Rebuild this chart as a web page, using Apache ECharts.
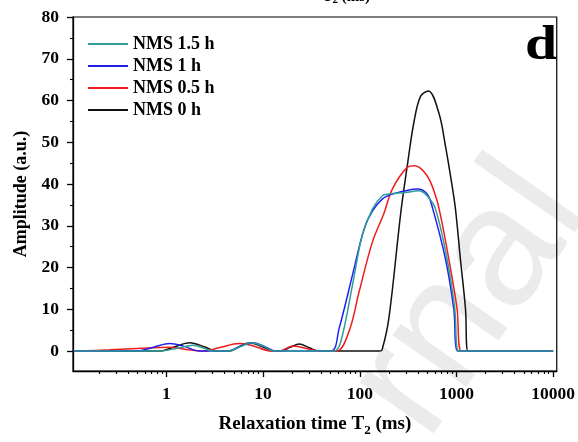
<!DOCTYPE html>
<html>
<head>
<meta charset="utf-8">
<script src="https://cdn.jsdelivr.net/npm/echarts@6/dist/echarts.min.js"></script>
<style>
  html, body { margin: 0; padding: 0; background: #fff; }
  #chart { width: 578px; height: 442px; }
</style>
</head>
<body>
<div id="chart"></div>
<script>
// T2 relaxation time (ms) and amplitude (a.u.) for each NMS treatment time
const t0h   = [0.11, 0.85, 1.2, 1.74, 2.5, 3.3, 4.5, 5.6, 7.2, 10, 12.6, 15, 19, 23.7, 30, 38, 100, 160, 170, 200, 265, 310, 363, 425, 512, 658, 771, 901, 977, 1099, 1239, 1318, 2500, 10000];
const amp0h = [0, 0, 1.0, 2.0, 1.0, 0, 0, 1.0, 2.0, 1.0, 0, 0, 0.9, 1.7, 0.8, 0, 0, 0, 0.3, 7.9, 33, 44.4, 54.8, 61, 62.3, 57, 49, 39.6, 34, 22, 10.2, 0, 0, 0];

const t05h   = [0.11, 0.26, 0.57, 1.08, 1.6, 2.4, 3.5, 5.7, 7.8, 10.7, 12.6, 14.7, 20.2, 32.5, 41, 58, 77.6, 98.4, 135, 178, 217, 310, 370, 497, 608, 684, 834, 1014, 1127, 10000];
const amp05h = [0, 0.3, 0.7, 0.9, 0.4, 0, 0.8, 1.8, 1.3, 0.2, 0, 0, 1.2, 0.3, 0, 0, 4.8, 14.2, 26.1, 33, 38.8, 44, 44.4, 42, 37.2, 32.5, 22, 10.2, 0, 0];

const t1h   = [0.11, 0.49, 0.75, 1.08, 1.5, 2.2, 4.2, 6, 7.8, 10.2, 13.6, 20, 50.2, 61.2, 84, 111, 135, 171, 217, 298, 393, 497, 570, 771, 938, 1038, 10000];
const amp1h = [0, 0, 1.0, 1.8, 1.2, 0, 0, 1.3, 2.0, 1.2, 0, 0, 0, 5.5, 18.2, 29.3, 33.5, 36.4, 37.6, 38.4, 38.8, 37.6, 34, 22, 10.2, 0, 0];

const t15h   = [0.11, 0.85, 1.3, 1.88, 2.5, 3.0, 4.3, 6, 7.5, 10, 13, 20, 54.4, 63.7, 84, 106, 135, 171, 200, 298, 408, 497, 608, 800, 960, 1057, 10000];
const amp15h = [0, 0, 0.7, 1.4, 0.6, 0, 0, 1.2, 2.0, 1.2, 0, 0, 0, 2.3, 15.8, 27.7, 34, 37.2, 37.6, 38, 38.4, 37.2, 34, 22, 10.2, 0, 0];

const seriesNames  = ['NMS 0 h', 'NMS 0.5 h', 'NMS 1 h', 'NMS 1.5 h'];
const seriesColors = ['#111111', '#f01c1c', '#2020f0', '#2e9e98'];
const legendOrder  = ['NMS 1.5 h', 'NMS 1 h', 'NMS 0.5 h', 'NMS 0 h'];

// axis ticks: decades on x, tens on y
const xMajor = [1, 10, 100, 1000, 10000];
const xMinorFactors = [2, 3, 4, 5, 6, 7, 8, 9];
const xDecades = [0.1, 1, 10, 100, 1000];
const yMajor = [0, 10, 20, 30, 40, 50, 60, 70, 80];
const yMinor = [5, 15, 25, 35, 45, 55, 65, 75];

const serif = '"Liberation Serif", "Times New Roman", "DejaVu Serif", serif';
const lg = Math.log10;

const xMin = lg(0.108), xMax = lg(10900);
const yMin = -4.76, yMax = 80;

const xMinorLogs = [];
xDecades.forEach(d => xMinorFactors.forEach(f => {
  const v = lg(d * f);
  if (v > xMin && v < xMax) xMinorLogs.push(v);
}));

function toPairs(ts, as) { return ts.map((t, i) => [lg(t), as[i]]); }

const chart = echarts.init(document.getElementById('chart'), null, { renderer: 'canvas' });

const axisLine = { show: true, onZero: false, lineStyle: { color: '#000', width: 1.3 } };
const tickFont = { fontFamily: serif, fontWeight: 'bold', fontSize: 17.5, color: '#000' };

chart.setOption({
  backgroundColor: '#fff',
  animation: false,
  grid: { left: 73, right: 20, top: 17, bottom: 69, show: true, borderColor: '#000', borderWidth: 1.2, backgroundColor: 'transparent' },
  legend: {
    data: legendOrder.map(n => ({ name: n, icon: 'rect' })),
    orient: 'vertical',
    left: 83, top: 30,
    itemWidth: 40, itemHeight: 2, itemGap: 4,
    textStyle: { fontFamily: serif, fontWeight: 'bold', fontSize: 18, color: '#000' }
  },
  xAxis: [
    {
      type: 'value', min: xMin, max: xMax, position: 'bottom',
      axisLine: axisLine,
      axisTick: { show: true, inside: false, length: 6, lineStyle: { color: '#000', width: 1.3 }, customValues: xMajor.map(lg) },
      axisLabel: Object.assign({ show: true, margin: 14, customValues: xMajor.map(lg),
        formatter: v => String(Math.round(Math.pow(10, v))) }, tickFont),
      splitLine: { show: false },
      name: '{m|Relaxation time T}{s|2}{m| (ms)}',
      nameLocation: 'middle', nameGap: 44,
      nameTextStyle: {
        rich: {
          m: { fontFamily: serif, fontWeight: 'bold', fontSize: 19, color: '#000', lineHeight: 22, verticalAlign: 'top' },
          s: { fontFamily: serif, fontWeight: 'bold', fontSize: 13, color: '#000', lineHeight: 12, verticalAlign: 'bottom' }
        }
      }
    },
    {
      type: 'value', min: xMin, max: xMax, position: 'bottom',
      axisLine: { show: false, onZero: false },
      axisTick: { show: true, inside: false, length: 3, lineStyle: { color: '#000', width: 1.1 }, customValues: xMinorLogs },
      axisLabel: { show: false },
      splitLine: { show: false }
    }
  ],
  yAxis: [
    {
      type: 'value', min: yMin, max: yMax, position: 'left',
      axisLine: axisLine,
      axisTick: { show: true, inside: false, length: 6, lineStyle: { color: '#000', width: 1.3 }, customValues: yMajor },
      axisLabel: Object.assign({ show: true, margin: 14, customValues: yMajor }, tickFont),
      splitLine: { show: false },
      name: 'Amplitude (a.u.)',
      nameLocation: 'middle', nameGap: 41,
      nameTextStyle: { fontFamily: serif, fontWeight: 'bold', fontSize: 18, color: '#000' }
    },
    {
      type: 'value', min: yMin, max: yMax, position: 'left',
      axisLine: { show: false, onZero: false },
      axisTick: { show: true, inside: false, length: 3, lineStyle: { color: '#000', width: 1.1 }, customValues: yMinor },
      axisLabel: { show: false },
      splitLine: { show: false }
    }
  ],
  graphic: [
    {
      type: 'text', z: -10, silent: true,
      x: 470, y: 300, rotation: 0.96,
      style: { text: 'rnal', fontFamily: '"Liberation Sans", Arial, sans-serif', fontSize: 170, fill: '#ebebeb', align: 'center', verticalAlign: 'middle' }
    },
    {
      type: 'text', silent: true,
      x: 541, y: 46, scaleX: 1.18,
      style: { text: 'd', fontFamily: serif, fontWeight: 'bold', fontSize: 49, fill: '#000', align: 'center', verticalAlign: 'middle' }
    },
    {
      type: 'text', silent: true,
      x: 370, y: -10,
      style: {
        text: '{m|T}{s|2}{m| (ms)}', align: 'right', verticalAlign: 'top',
        rich: {
          m: { fontFamily: serif, fontWeight: 'bold', fontSize: 15, fill: '#000', lineHeight: 16, verticalAlign: 'top' },
          s: { fontFamily: serif, fontWeight: 'bold', fontSize: 11, fill: '#000', lineHeight: 10, verticalAlign: 'bottom' }
        }
      }
    }
  ],
  series: [
    [t0h, amp0h], [t05h, amp05h], [t1h, amp1h], [t15h, amp15h]
  ].map((d, i) => ({
    name: seriesNames[i],
    type: 'line',
    xAxisIndex: 0, yAxisIndex: 0,
    data: toPairs(d[0], d[1]),
    smooth: 0.35,
    symbol: 'none',
    clip: true,
    lineStyle: { color: seriesColors[i], width: 1.5 },
    itemStyle: { color: seriesColors[i] }
  }))
});
</script>
</body>
</html>
